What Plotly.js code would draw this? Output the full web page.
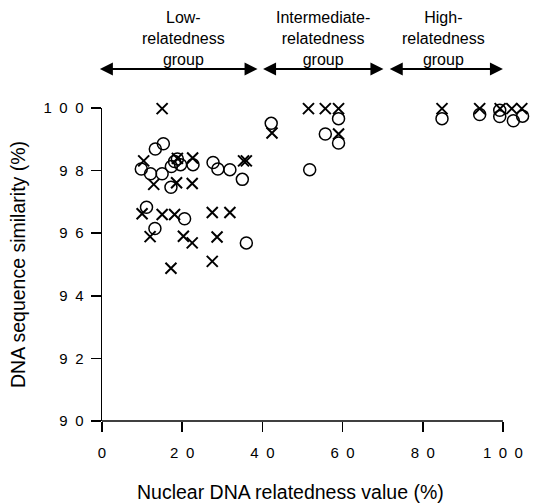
<!DOCTYPE html>
<html><head><meta charset="utf-8">
<script src="https://cdn.plot.ly/plotly-3.0.1.min.js"></script>
<style>html,body{margin:0;padding:0;background:#fff}</style>
</head><body><div id="chart" style="width:543px;height:504px"></div>
<script>
// Cross markers (x = nuclear DNA relatedness %, y = DNA sequence similarity %)
const crossX = [15.0, 10.4, 18.8, 22.6, 35.3, 36.0, 12.9, 18.6, 22.5, 10.0, 15.0, 18.1, 27.5, 31.9, 12.0, 20.3, 22.5, 28.7, 17.2, 27.5, 42.4,
                51.5, 55.7, 59.0, 59.0,
                84.8, 94.2, 99.3, 102.2, 104.7];
const crossY = [99.98, 98.31, 98.39, 98.40, 98.31, 98.31, 97.56, 97.61, 97.59, 96.62, 96.60, 96.60, 96.66, 96.66, 95.89, 95.90, 95.69, 95.88, 94.88, 95.10, 99.20,
                99.98, 99.98, 99.98, 99.17,
                99.98, 99.98, 99.98, 99.98, 99.98];
// Circle markers
const circleX = [42.2, 13.3, 15.3, 9.8, 12.1, 15.0, 17.3, 18.1, 18.8, 19.6, 22.7, 27.7, 28.9, 31.9, 35.0, 17.2, 11.1, 13.2, 20.6, 36.0,
                 59.0, 55.7, 59.0, 51.8,
                 84.8, 94.2, 99.2, 99.2, 102.6, 104.9];
const circleY = [99.51, 98.69, 98.86, 98.05, 97.90, 97.90, 98.13, 98.29, 98.37, 98.19, 98.19, 98.26, 98.05, 98.03, 97.72, 97.47, 96.83, 96.15, 96.46, 95.69,
                 99.66, 99.17, 98.88, 98.03,
                 99.66, 99.79, 99.93, 99.73, 99.59, 99.74];
// Ticks
const xTickVals = [0, 20, 40, 60, 80, 100];
const xTickText = ["0", "2\u20020", "4\u20020", "6\u20020", "8\u20020", "1\u20020\u20020"];
const yTickVals = [90, 92, 94, 96, 98, 100];
const yTickText = ["9\u20020", "9\u20022", "9\u20024", "9\u20026", "9\u20028", "1\u20020\u20020"];
// Group brackets
const groupLabels = ["Low-<br>relatedness<br>group", "Intermediate-<br>relatedness<br>group", "High-<br>relatedness<br>group"];
const groupCenters = [20.3, 55.2, 85.1];
const groupStarts = [-0.9, 39.8, 71.4];
const groupEnds = [38.8, 70.2, 100];
const xAxisMin = 0, xAxisMax = 100;

const FONT = "Liberation Sans, Arial, Helvetica, sans-serif";

const traces = [
  {x: circleX, y: circleY, type: 'scatter', mode: 'markers', cliponaxis: false,
   marker: {symbol: 'circle-open', size: 12, color: '#000', line: {width: 1.5, color: '#000'}}},
  {x: crossX, y: crossY, type: 'scatter', mode: 'markers', cliponaxis: false,
   marker: {symbol: 'x-thin-open', size: 11, color: '#000', line: {width: 2, color: '#000'}}}
];

const annotations = [];
for (let i = 0; i < groupLabels.length; i++) {
  annotations.push({
    x: groupEnds[i], y: 1.1247, xref: 'x', yref: 'paper',
    ax: groupStarts[i], ay: 0, axref: 'x', ayref: 'pixel',
    text: '', showarrow: true, arrowside: 'end+start',
    arrowhead: 2, startarrowhead: 2, arrowsize: 1.3, startarrowsize: 1.3,
    arrowwidth: 2, arrowcolor: '#000', standoff: 0, startstandoff: 0
  });
  annotations.push({
    x: groupCenters[i], y: 1.2216, xref: 'x', yref: 'paper',
    text: groupLabels[i], showarrow: false, xanchor: 'center', yanchor: 'middle',
    font: {family: FONT, size: 16, color: '#000'}
  });
}
// x-axis title (placed as in the original figure, slightly left of plot centre)
annotations.push({
  x: 0.441, y: -0.2271, xref: 'paper', yref: 'paper', xanchor: 'center', yanchor: 'middle',
  text: 'Nuclear DNA relatedness value (%)', showarrow: false,
  font: {family: FONT, size: 19.5, color: '#000'}
});

const layout = {
  width: 543, height: 504,
  margin: {l: 101.5, r: 14.2, t: 108.3, b: 83, pad: 0},
  paper_bgcolor: '#fff', plot_bgcolor: '#fff',
  font: {family: FONT, color: '#000'},
  showlegend: false,
  xaxis: {
    range: [0, 106.5], tickvals: xTickVals, ticktext: xTickText,
    ticks: 'outside', ticklen: 10, tickwidth: 1.5, tickcolor: '#000',
    showline: false, showgrid: false, zeroline: false, fixedrange: true,
    tickfont: {family: FONT, size: 15, color: '#000'}, ticklabelstandoff: 8
  },
  yaxis: {
    range: [90, 100], tickvals: yTickVals, ticktext: yTickText,
    ticks: 'outside', ticklen: 10, tickwidth: 1.5, tickcolor: '#000',
    showline: true, linewidth: 1.5, linecolor: '#000',
    showgrid: false, zeroline: false, fixedrange: true,
    tickfont: {family: FONT, size: 15, color: '#000'}, ticklabelstandoff: 4,
    title: {text: 'DNA sequence similarity (%)', font: {family: FONT, size: 19.5, color: '#000'}, standoff: 12}
  },
  shapes: [
    {type: 'line', xref: 'x', yref: 'paper', x0: xAxisMin, x1: xAxisMax, y0: 0, y1: 0,
     line: {color: '#000', width: 1.5}}
  ],
  annotations: annotations
};

Plotly.newPlot('chart', traces, layout, {displayModeBar: false, staticPlot: true});
</script>
</body></html>
